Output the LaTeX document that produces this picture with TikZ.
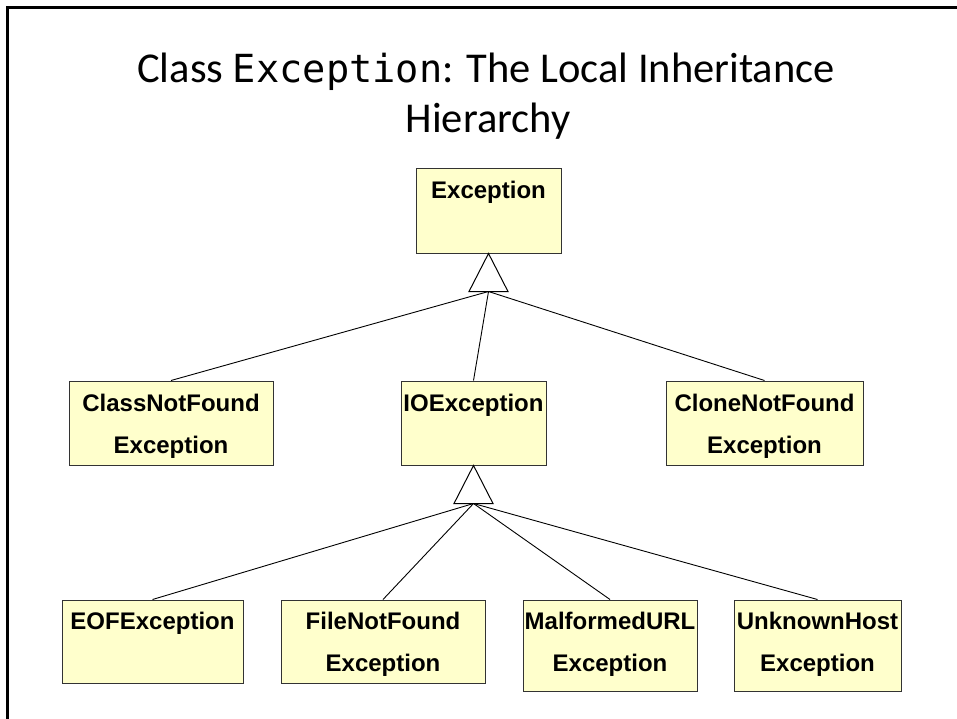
\documentclass[tikz,border=0pt]{standalone}
\usepackage{fontspec}
\setmainfont{Carlito}
\newfontfamily\boxfont{Liberation Sans}
\newfontfamily\codefont{DejaVu Sans Mono}[Scale=0.91]
\definecolor{clsfill}{RGB}{255,255,204}
\definecolor{clsedge}{RGB}{51,51,51}
\tikzset{
  cls/.style={draw=clsedge, fill=clsfill, line width=1pt, inner sep=0pt},
  clstext/.style={anchor=base, inner sep=0pt, font=\boxfont\bfseries\fontsize{24}{29}\selectfont},
  gen/.style={draw=black, fill=white, line width=1pt, line join=miter},
  link/.style={draw=black, line width=0.9pt},
  frameline/.style={draw=black, line width=3pt},
  titletext/.style={anchor=base, inner sep=0pt, font=\fontsize{42.5}{50}\selectfont}
}
\begin{document}
\begin{tikzpicture}[x=1pt, y=-1pt]
\useasboundingbox (0,0) rectangle (957,719);
% frame (top and left only)
\draw[frameline] (7,719) -- (7,7.5) -- (957,7.5);
% title
\node[titletext] (title1) at (486,83) {Class {\codefont Exception}: The Local Inheritance};
\node[titletext] (title2) at (488,133) {Hierarchy};
% top class
\node[cls, minimum width=145pt, minimum height=84pt] (exc) at (488.5,211) {};
\node[clstext] (excT) at (488.5,199) {Exception};
% middle row
\node[cls, minimum width=204pt, minimum height=84pt] (cnf) at (171,423) {};
\node[clstext] (cnfT1) at (171,411) {ClassNotFound};
\node[clstext] (cnfT2) at (171,453) {Exception};
\node[cls, minimum width=145pt, minimum height=84pt] (io) at (473.5,423) {};
\node[clstext] (ioT) at (473.5,411) {IOException};
\node[cls, minimum width=197pt, minimum height=84pt] (clone) at (764.5,423) {};
\node[clstext] (cloneT1) at (764.5,411) {CloneNotFound};
\node[clstext] (cloneT2) at (764.5,453) {Exception};
% bottom row
\node[cls, minimum width=181pt, minimum height=83pt] (eof) at (152.5,641.5) {};
\node[clstext] (eofT) at (152.5,629) {EOFException};
\node[cls, minimum width=204pt, minimum height=83pt] (fnf) at (383,641.5) {};
\node[clstext] (fnfT1) at (383,629) {FileNotFound};
\node[clstext] (fnfT2) at (383,671) {Exception};
\node[cls, minimum width=174pt, minimum height=91pt] (mal) at (610,645.5) {};
\node[clstext] (malT1) at (610,629) {MalformedURL};
\node[clstext] (malT2) at (610,671) {Exception};
\node[cls, minimum width=167pt, minimum height=91pt] (unk) at (817.5,645.5) {};
\node[clstext] (unkT1) at (817.5,629) {UnknownHost};
\node[clstext] (unkT2) at (817.5,671) {Exception};
% generalization triangles
\draw[gen] (exc.south) -- ++(19.5,38) -- ++(-39,0) -- cycle;
\coordinate (excB) at ([yshift=-38pt]exc.south);
\draw[gen] (io.south) -- ++(19.5,38) -- ++(-39,0) -- cycle;
\coordinate (ioB) at ([yshift=-38pt]io.south);
% connectors
\draw[link] (excB) -- (cnf.north);
\draw[link] (excB) -- (io.north);
\draw[link] (excB) -- (clone.north);
\draw[link] (ioB) -- (eof.north);
\draw[link] (ioB) -- (fnf.north);
\draw[link] (ioB) -- (mal.north);
\draw[link] (ioB) -- (unk.north);
\end{tikzpicture}
\end{document}
